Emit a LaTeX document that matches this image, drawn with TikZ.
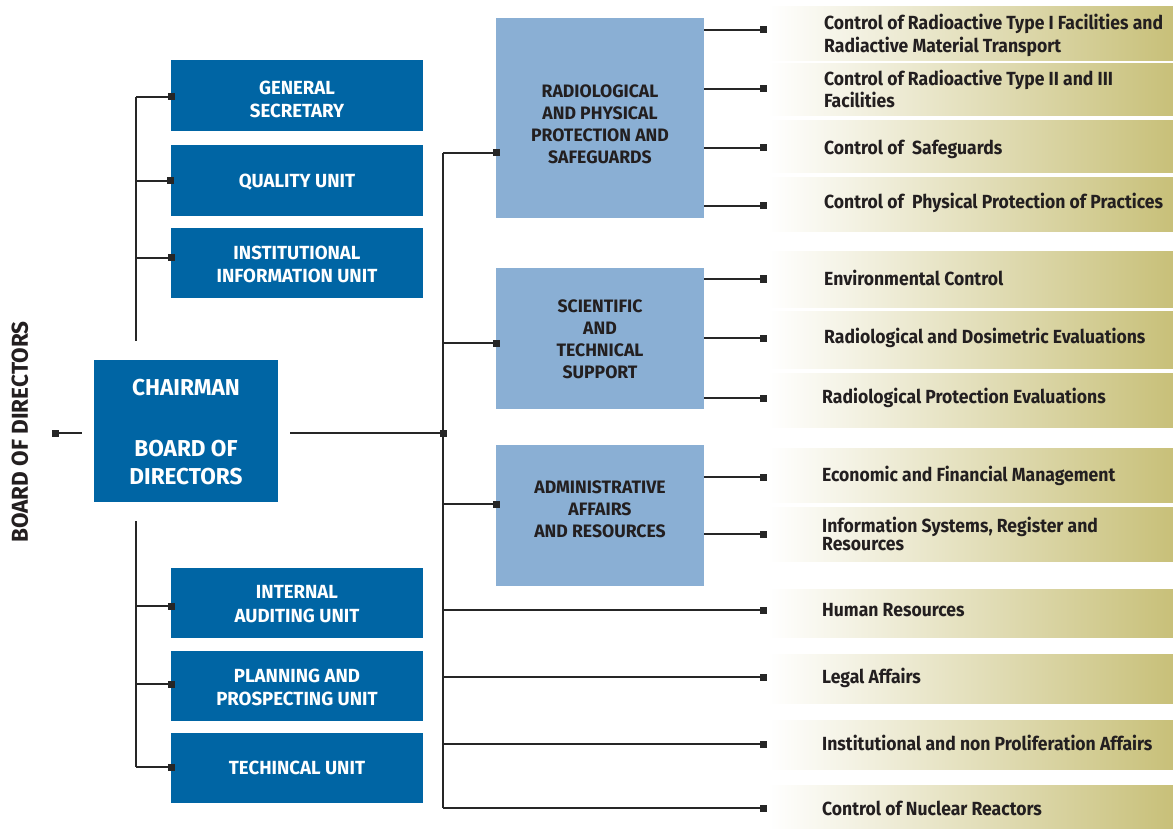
\documentclass[tikz,border=0pt]{standalone}
\usepackage{fontspec}
\setmainfont{Fira Sans}[FakeStretch=0.925]
\newfontfamily\capsfont{Fira Sans}[FakeStretch=0.98]
\definecolor{dblue}{RGB}{0,101,164}
\definecolor{lblue}{RGB}{138,175,212}
\definecolor{barend}{RGB}{200,192,121}
\definecolor{ink}{RGB}{35,31,32}
\definecolor{wirec}{RGB}{38,38,38}
\newcommand\mlc[1]{\begin{tabular}[t]{@{}c@{}}#1\end{tabular}}
\newcommand\mll[1]{\begin{tabular}[t]{@{}l@{}}#1\end{tabular}}
\begin{document}
\begin{tikzpicture}[x=1pt,y=-1pt,
  wire/.style={draw=wirec, line width=1.5pt},
  sq/.style={fill=wirec, minimum size=7pt, inner sep=0pt, outer sep=0pt},
  ubox/.style={fill=dblue, minimum width=252pt, minimum height=70pt, inner sep=0pt},
  dbox/.style={fill=lblue, minimum width=208pt, inner sep=0pt},
  bar/.style={left color=white, right color=barend, minimum width=405pt, inner sep=0pt, draw=none},
  utext/.style={anchor=base, inner sep=0pt, text=white, font=\capsfont\fontsize{19}{23}\selectfont\bfseries},
  ctext/.style={anchor=base, inner sep=0pt, text=white, font=\capsfont\fontsize{23}{28}\selectfont\bfseries},
  dtext/.style={anchor=base, inner sep=0pt, text=ink, font=\capsfont\fontsize{18}{22}\selectfont\bfseries},
  rtext/.style={anchor=base west, inner sep=0pt, text=ink, font=\fontsize{19}{23}\selectfont\bfseries},
]
\useasboundingbox (0,0) rectangle (1173,829);
\fill[white] (0,0) rectangle (1173,829);

% ---- gradient bars on the right
\node[bar, minimum height=54pt] (b1) at (970.5,34) {};
\node[bar, minimum height=52pt] (b2) at (970.5,90) {};
\node[bar, minimum height=52pt] (b3) at (970.5,147) {};
\node[bar, minimum height=54pt] (b4) at (970.5,205) {};
\node[bar, minimum height=55pt] (b5) at (970.5,279.5) {};
\node[bar, minimum height=57pt] (b6) at (970.5,339.5) {};
\node[bar, minimum height=54pt] (b7) at (970.5,400) {};
\node[bar, minimum height=54pt] (b8) at (970.5,475) {};
\node[bar, minimum height=54pt] (b9) at (970.5,534) {};
\node[bar, minimum height=48pt] (b10) at (970.5,613) {};
\node[bar, minimum height=49pt] (b11) at (970.5,678.5) {};
\node[bar, minimum height=49pt] (b12) at (970.5,744.5) {};
\node[bar, minimum height=49pt] (b13) at (970.5,809.5) {};

\node[rtext] (t1) at (824,29.5) {\mll{Control of Radioactive Type I Facilities and\\Radiactive Material Transport}};
\node[rtext] (t2) at (824,85.5) {\mll{Control of Radioactive Type II and III\\[-1pt]Facilities}};
\node[rtext] (t3) at (824,154.5) {Control of\ \ Safeguards};
\node[rtext] (t4) at (824,208.5) {Control of\ \ Physical Protection of Practices};
\node[rtext] (t5) at (824,285.5) {Environmental Control};
\node[rtext] (t6) at (824,343.5) {Radiological and Dosimetric Evaluations};
\node[rtext] (t7) at (822,403.5) {Radiological Protection Evaluations};
\node[rtext] (t8) at (822,481.5) {Economic and Financial Management};
\node[rtext] (t9) at (822,532.5) {\mll{Information Systems, Register and\\[-5pt]Resources}};
\node[rtext] (t10) at (822,616.5) {Human Resources};
\node[rtext] (t11) at (822,683.5) {Legal Affairs};
\node[rtext] (t12) at (822,750.5) {Institutional and non Proliferation Affairs};
\node[rtext] (t13) at (822,815.5) {Control of Nuclear Reactors};

% ---- vertical title
\node[rotate=90, inner sep=0pt, text=ink, font=\capsfont\fontsize{23}{28}\selectfont\bfseries] (bodtitle) at (20,432) {BOARD OF DIRECTORS};

% ---- chairman
\node[fill=dblue, minimum width=184pt, minimum height=142pt, inner sep=0pt] (chair) at (186,431) {};
\node[ctext] (chairtxt) at (186,395) {\mlc{CHAIRMAN\\[33pt]BOARD OF\\DIRECTORS}};

% ---- left staff units
\node[ubox, minimum height=71pt] (gs) at (297,96) {};
\node[ubox, minimum height=71pt] (qu) at (297,180.5) {};
\node[ubox] (iiu) at (297,263) {};
\node[ubox] (iau) at (297,603) {};
\node[ubox] (ppu) at (297,686) {};
\node[ubox] (tu) at (297,768) {};
\node[utext] (gstxt) at (297,94.5) {\mlc{GENERAL\\SECRETARY}};
\node[utext] (qutxt) at (297,187.5) {QUALITY UNIT};
\node[utext] (iiutxt) at (297,259.5) {\mlc{INSTITUTIONAL\\INFORMATION UNIT}};
\node[utext] (iautxt) at (297,598.5) {\mlc{INTERNAL\\[1pt]AUDITING UNIT}};
\node[utext] (pputxt) at (297,682.5) {\mlc{PLANNING AND\\PROSPECTING UNIT}};
\node[utext] (tutxt) at (297,774.5) {TECHINCAL UNIT};

% ---- management areas
\node[dbox, minimum height=200pt] (rpps) at (600,118) {};
\node[dbox, minimum height=141pt] (sts) at (600,338.5) {};
\node[dbox, minimum height=141pt] (aar) at (600,515.5) {};
\node[dtext] (rppstxt) at (600,97.2) {\mlc{RADIOLOGICAL\\AND PHYSICAL\\PROTECTION AND\\SAFEGUARDS}};
\node[dtext] (ststxt) at (600,312.2) {\mlc{SCIENTIFIC\\AND\\TECHNICAL\\[0.5pt]SUPPORT}};
\node[dtext] (aartxt) at (600,493.2) {\mlc{ADMINISTRATIVE\\[0.5pt]AFFAIRS\\AND RESOURCES}};

% ---- connector squares
\node[sq] (sbod) at (55,433) {};
\node[sq] (sgs) at (171,97) {};
\node[sq] (squ) at (170,181) {};
\node[sq] (siiu) at (171,258) {};
\node[sq] (siau) at (171,606) {};
\node[sq] (sppu) at (171,684) {};
\node[sq] (stu) at (171,767) {};
\node[sq] (ssp) at (443,433) {};
\node[sq] (srpps) at (496,153) {};
\node[sq] (ssts) at (496,343) {};
\node[sq] (saar) at (496,504) {};
\node[sq] (r1) at (763,30) {};
\node[sq] (r2) at (763,89) {};
\node[sq] (r3) at (763,148) {};
\node[sq] (r4) at (763,206) {};
\node[sq] (r5) at (763,279) {};
\node[sq] (r6) at (763,338) {};
\node[sq] (r7) at (763,398) {};
\node[sq] (r8) at (763,477) {};
\node[sq] (r9) at (763,534) {};
\node[sq] (r10) at (763,610) {};
\node[sq] (r11) at (763,677) {};
\node[sq] (r12) at (763,744) {};
\node[sq] (r13) at (763,808) {};

% ---- trunk coordinates
\coordinate (lt1) at (136,97);
\coordinate (lt2) at (136,341);
\coordinate (lb1) at (136,521);
\coordinate (lb2) at (136,767);
\coordinate (sp1) at (443,153);
\coordinate (sp2) at (443,808);

% ---- connectors
\draw[wire, shorten >=12pt] (sbod.center) -- (chair.west |- sbod.center);
\draw[wire, shorten <=12pt] (chair.east |- ssp.center) -- (ssp.center);
\draw[wire] (lt1) -- (lt2);
\draw[wire] (lb1) -- (lb2);
\foreach \s in {sgs,squ,siiu,siau,sppu,stu}
  \draw[wire] (\s.center -| lt1) -- (\s.center);
\draw[wire] (sp1) -- (sp2);
\foreach \s in {srpps,ssts,saar}
  \draw[wire] (\s.center -| sp1) -- (\s.center);
\foreach \s in {r1,r2,r3,r4}
  \draw[wire] (rpps.east |- \s.center) -- (\s.center);
\foreach \s in {r5,r6,r7}
  \draw[wire] (sts.east |- \s.center) -- (\s.center);
\foreach \s in {r8,r9}
  \draw[wire] (aar.east |- \s.center) -- (\s.center);
\foreach \s in {r10,r11,r12,r13}
  \draw[wire] (\s.center -| sp1) -- (\s.center);
\end{tikzpicture}
\end{document}
